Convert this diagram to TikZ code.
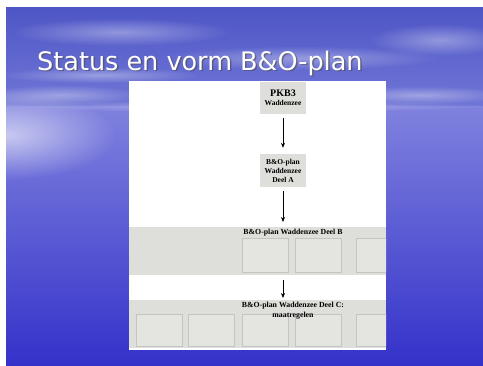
\documentclass[tikz,border=0pt]{standalone}
\usepackage{fontspec}
\setmainfont{Liberation Serif}
\newfontfamily\titlefont{DejaVu Sans}
\usepackage{tikz}
\usetikzlibrary{arrows.meta}
\usetikzlibrary{fadings}
\usepackage{xcolor}
\definecolor{skytop}{RGB}{78,86,198}
\definecolor{skylow}{RGB}{112,118,214}
\definecolor{seahigh}{RGB}{128,130,222}
\definecolor{sealow}{RGB}{52,50,202}
\definecolor{panelgray}{RGB}{222,222,218}
\definecolor{cellline}{RGB}{196,196,192}
\definecolor{cellfill}{RGB}{228,228,224}
\newcommand{\colorband}{panelgray}
\newcommand{\colorcellline}{cellline}
\newcommand{\colorcellfill}{cellfill}
\newcommand{\widthbox}{46pt}
\newcommand{\widthband}{257pt}
\newcommand{\heightband}{48pt}
\newcommand{\heightcell}{34pt}
\tikzfading[name=soft edge, inner color=transparent!0, outer color=transparent!100]
\tikzset{
    common/.style={rectangle, inner sep=1pt},
    box/.style={common, fill=\colorband, minimum width=\widthbox, align=center, font=\bfseries\fontsize{7.5}{9}\selectfont},
    band/.style={common, fill=\colorband, anchor=north west, minimum width=\widthband, minimum height=\heightband},
    cell/.style={common, draw=\colorcellline, fill=\colorcellfill, anchor=north west, minimum width=\widthbox, minimum height=\heightcell},
    bandtitle/.style={align=center, inner sep=0pt, font=\bfseries\fontsize{7.8}{9.5}\selectfont},
    cloud/.style={white, opacity=0.35, path fading=soft edge},
    flow/.style={-{Stealth[length=5pt, width=4pt]}, semithick},
}

\begin{document}
\begin{tikzpicture}[x=1pt, y=-1pt]
    \useasboundingbox (0,0) rectangle (483,365);
    % slide background
    \shade[top color=skytop, bottom color=skylow] (6,7) rectangle (483,106);
    \shade[top color=seahigh, bottom color=sealow] (6,106) rectangle (483,365);
    \fill[cloud] (120,32) ellipse (110 and 14);
    \fill[cloud] (300,58) ellipse (140 and 12);
    \fill[cloud] (440,40) ellipse (70 and 16);
    \fill[cloud] (60,95) ellipse (80 and 10);
    \fill[cloud] (420,95) ellipse (90 and 9);
    \fill[cloud] (100,75) ellipse (100 and 8);
    \fill[cloud] (250,106) ellipse (240 and 6);
    \fill[white, opacity=0.6, path fading=soft edge] (6,135) ellipse (110 and 45);

    % title
    \node[anchor=base west, inner sep=0pt, text=black!70, opacity=0.6, font=\titlefont\fontsize{25.5}{28}\selectfont]
        (title-shadow) at (38.5,71.5) {Status en vorm B\&O-plan};
    \node[anchor=base west, inner sep=0pt, text=white, font=\titlefont\fontsize{25.5}{28}\selectfont]
        (title) at (37,70) {Status en vorm B\&O-plan};

    % white panel
    \fill[white] (129,81) rectangle (386,350);

    \path
        (283,98) node[box, minimum height=32pt] (pkb3) {{\fontsize{10}{11}\selectfont PKB3}\\Waddenzee}
        +(0,72.5) node[box, minimum height=33pt] (deel-a) {B\&O-plan\\Waddenzee\\Deel A};

    \begin{scope}
        \clip (129,81) rectangle (386,350);
        \node[band] (deel-b) at (129,227) {};
        \node[band] (deel-c) at (129,300) {};
        \foreach \x [count=\i] in {242,295,356}
            \node[cell] (b-cell-\i) at (\x,238) {};
        \foreach \x [count=\i] in {136,188,242,295,356}
            \node[cell, minimum height=32pt] (c-cell-\i) at (\x,314) {};
    \end{scope}

    \node[bandtitle] (deel-b-title) at (293,232.5) {B\&O-plan Waddenzee Deel B};
    \node[bandtitle, anchor=north] (deel-c-title) at (293,302) {B\&O-plan Waddenzee Deel C:\\maatregelen};

    \draw[flow, shorten <=4pt, shorten >=6pt] (pkb3) -- (deel-a);
    \draw[flow, shorten <=4pt, shorten >=5pt] (deel-a) -- (deel-a |- deel-b.north);
    \draw[flow, shorten <=5pt, shorten >=2pt] (deel-a |- deel-b.south) -- (deel-a |- deel-c.north);
\end{tikzpicture}
\end{document}
